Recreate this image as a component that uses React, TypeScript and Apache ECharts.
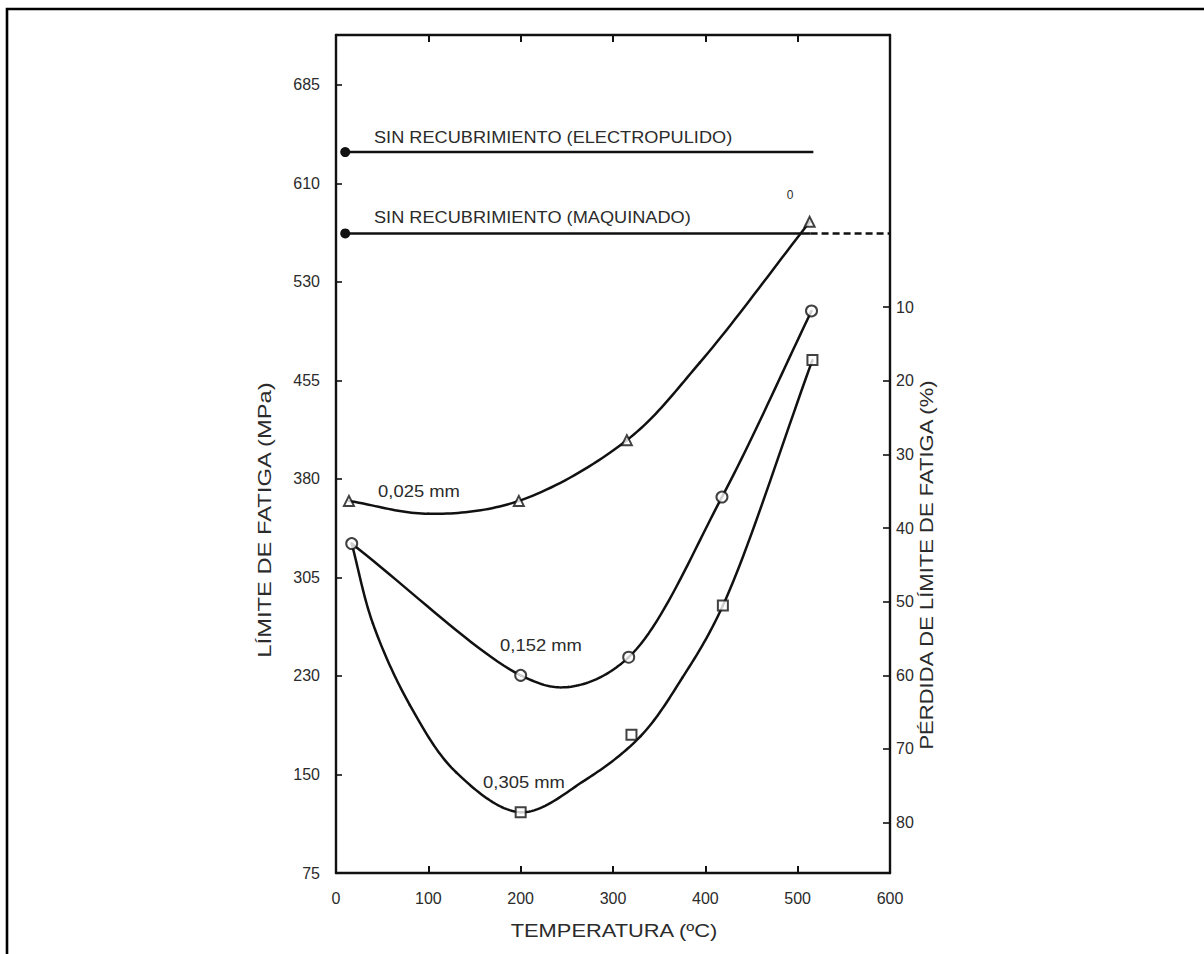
import React, { useEffect, useRef } from "react";
import * as echarts from "echarts";

// ---- Axis ticks ----
const temperatureTicks = [0, 100, 200, 300, 400, 500, 600];
const mpaTickValues = [75, 151.25, 227.5, 303.75, 380, 456.25, 532.5, 608.75, 685];
const mpaTickLabels = ["75", "150", "230", "305", "380", "455", "530", "610", "685"];
const lossTickValues = [10, 20, 30, 40, 50, 60, 70, 80];

// ---- Reference (uncoated) levels, MPa ----
const electropolished = [[10, 633], [517, 633]];
const machined = [[10, 570], [514, 570]];
const machinedExtension = [[514, 570], [600, 570]];

// ---- Coated: 0,025 mm (triangles) ----
const t025Markers = [[14, 363], [198, 363], [315, 410], [513, 579]];
const t025Curve = [[14, 363], [100, 353], [198, 363], [315, 410], [394, 470], [513, 579]];

// ---- Coated: 0,152 mm (circles) ----
const c152Markers = [[17, 330], [200, 228], [317, 242], [418, 366], [515, 510]];
const c152Curve = [[17, 330], [200, 228], [252, 219], [317, 242], [418, 366], [515, 510]];

// ---- Coated: 0,305 mm (squares) ----
const s305Markers = [[200, 122], [320, 182], [419, 282], [516, 472]];
const s305Curve = [[17, 330], [40, 268], [80, 205], [130, 153], [200, 122], [270, 147], [330, 181], [375, 226], [419, 282], [516, 472]];

const MPA_MIN = 75;
const MPA_MAX = 723.6;
const REF_MPA = 570; // 0 % loss level (machined)

const FONT = "'Liberation Sans', Arial, sans-serif";
const INK = "#111";
const TXT = "#2b2b2b";

type P = [number, number];

// centripetal Catmull-Rom segment between p1 and p2
function crSegment(p0: P, p1: P, p2: P, p3: P, n: number): P[] {
  const d = (a: P, b: P) => Math.max(Math.pow(Math.hypot(b[0] - a[0], b[1] - a[1]), 0.5), 1e-4);
  const t0 = 0;
  const t1 = t0 + d(p0, p1);
  const t2 = t1 + d(p1, p2);
  const t3 = t2 + d(p2, p3);
  const lerp = (a: P, b: P, ta: number, tb: number, t: number): P => {
    const wa = (tb - t) / (tb - ta);
    const wb = (t - ta) / (tb - ta);
    return [a[0] * wa + b[0] * wb, a[1] * wa + b[1] * wb];
  };
  const out: P[] = [];
  for (let i = 0; i <= n; i++) {
    const t = t1 + ((t2 - t1) * i) / n;
    const a1 = lerp(p0, p1, t0, t1, t);
    const a2 = lerp(p1, p2, t1, t2, t);
    const a3 = lerp(p2, p3, t2, t3, t);
    const b1 = lerp(a1, a2, t0, t2, t);
    const b2 = lerp(a2, a3, t1, t3, t);
    out.push(lerp(b1, b2, t1, t2, t));
  }
  return out;
}

function smoothCurveSeries(name: string, curve: number[][]) {
  return {
    name,
    type: "custom",
    coordinateSystem: "cartesian2d",
    xAxisIndex: 0,
    yAxisIndex: 0,
    data: curve.slice(0, curve.length - 1),
    silent: true,
    z: 3,
    renderItem: (params: any, api: any) => {
      const i = params.dataIndex;
      const pts: P[] = curve.map((c) => api.coord(c) as P);
      const p1 = pts[i];
      const p2 = pts[i + 1];
      const p0: P = i > 0 ? pts[i - 1] : [2 * p1[0] - p2[0], 2 * p1[1] - p2[1]];
      const p3: P = i + 2 < pts.length ? pts[i + 2] : [2 * p2[0] - p1[0], 2 * p2[1] - p1[1]];
      return {
        type: "polyline",
        shape: { points: crSegment(p0, p1, p2, p3, 24) },
        style: { stroke: INK, lineWidth: 2.5, fill: "none", lineJoin: "round", lineCap: "round" },
      };
    },
  };
}

export default function App() {
  const ref = useRef<HTMLDivElement>(null);

  useEffect(() => {
    if (!ref.current) return;
    const chart = echarts.init(ref.current, undefined, { renderer: "svg" });

    const lossMin = 100 * (1 - MPA_MAX / REF_MPA);
    const lossMax = 100 * (1 - MPA_MIN / REF_MPA);

    const lineStyle = { color: INK, width: 2.4 };
    const markerStyle = { color: "#fff", borderColor: INK, borderWidth: 2 };

    const startDotOnly = (arr: number[][]) =>
      arr.map((v, i) => (i === 0 ? { value: v } : { value: v, symbol: "none" }));

    const option: any = {
      animation: false,
      backgroundColor: "#fff",
      textStyle: { fontFamily: FONT },
      grid: { left: 336, top: 35, width: 554, height: 838, containLabel: false },
      xAxis: [
        {
          type: "value",
          position: "bottom",
          min: 0,
          max: 600,
          interval: 100,
          axisLine: { show: true, onZero: false, lineStyle: { color: INK, width: 2.4 } },
          axisTick: { show: true, inside: true, length: 7, lineStyle: { color: INK, width: 2 } },
          axisLabel: {
            show: true,
            margin: 17,
            color: TXT,
            fontSize: 16,
            fontFamily: FONT,
            formatter: (v: number) => (temperatureTicks.includes(v) ? String(v) : ""),
          },
          splitLine: { show: false },
        },
        {
          type: "value",
          position: "top",
          min: 0,
          max: 600,
          interval: 100,
          axisLine: { show: true, onZero: false, lineStyle: { color: INK, width: 2.4 } },
          axisTick: { show: true, inside: true, length: 7, lineStyle: { color: INK, width: 2 } },
          axisLabel: { show: false },
          splitLine: { show: false },
        },
      ],
      yAxis: [
        {
          type: "value",
          position: "left",
          min: MPA_MIN,
          max: MPA_MAX,
          axisLine: { show: true, onZero: false, lineStyle: { color: INK, width: 2.4 } },
          axisTick: {
            show: true,
            inside: true,
            length: 6,
            customValues: mpaTickValues,
            lineStyle: { color: INK, width: 1.6 },
          },
          axisLabel: {
            show: true,
            margin: 16,
            color: TXT,
            fontSize: 16,
            fontFamily: FONT,
            customValues: mpaTickValues,
            formatter: (v: number) => {
              const i = mpaTickValues.findIndex((t) => Math.abs(t - v) < 0.01);
              return i >= 0 ? mpaTickLabels[i] : "";
            },
          },
          splitLine: { show: false },
        },
        {
          type: "value",
          position: "right",
          inverse: true,
          min: lossMin,
          max: lossMax,
          axisLine: { show: true, onZero: false, lineStyle: { color: INK, width: 2.4 } },
          axisTick: {
            show: true,
            inside: true,
            length: 7,
            customValues: lossTickValues,
            lineStyle: { color: INK, width: 1.6 },
          },
          axisLabel: {
            show: true,
            margin: 6,
            color: TXT,
            fontSize: 16,
            fontFamily: FONT,
            customValues: lossTickValues,
            formatter: (v: number) => String(Math.round(v)),
          },
          splitLine: { show: false },
        },
      ],
      series: [
        {
          name: "SIN RECUBRIMIENTO (ELECTROPULIDO)",
          type: "line",
          data: startDotOnly(electropolished),
          symbol: "circle",
          symbolSize: 10,
          showAllSymbol: true,
          itemStyle: { color: INK },
          lineStyle,
          silent: true,
        },
        {
          name: "SIN RECUBRIMIENTO (MAQUINADO)",
          type: "line",
          data: startDotOnly(machined),
          symbol: "circle",
          symbolSize: 10,
          showAllSymbol: true,
          itemStyle: { color: INK },
          lineStyle,
          silent: true,
        },
        {
          name: "MAQUINADO (extensión)",
          type: "line",
          data: machinedExtension,
          symbol: "none",
          lineStyle: { color: INK, width: 2.4, type: [7, 4] },
          silent: true,
        },
        smoothCurveSeries("0,025 mm", t025Curve),
        smoothCurveSeries("0,152 mm", c152Curve),
        smoothCurveSeries("0,305 mm", s305Curve),
        {
          name: "0,025 mm puntos",
          type: "scatter",
          data: t025Markers,
          symbol: "triangle",
          symbolSize: 10,
          itemStyle: markerStyle,
          z: 5,
        },
        {
          name: "0,152 mm puntos",
          type: "scatter",
          data: c152Markers,
          symbol: "circle",
          symbolSize: 11,
          itemStyle: markerStyle,
          z: 5,
        },
        {
          name: "0,305 mm puntos",
          type: "scatter",
          data: s305Markers,
          symbol: "rect",
          symbolSize: 10,
          itemStyle: markerStyle,
          z: 5,
        },
      ],
      graphic: [
        {
          type: "rect",
          shape: { x: 7, y: 9, width: 1400, height: 1200 },
          style: { fill: "none", stroke: "#000", lineWidth: 2.6 },
          silent: true,
        },
        {
          type: "text",
          x: 374,
          y: 137,
          scaleX: 1.07,
          style: { text: "SIN RECUBRIMIENTO (ELECTROPULIDO)", fill: TXT, font: `17px ${FONT}`, verticalAlign: "middle" },
        },
        {
          type: "text",
          x: 374,
          y: 217,
          scaleX: 1.07,
          style: { text: "SIN RECUBRIMIENTO (MAQUINADO)", fill: TXT, font: `17px ${FONT}`, verticalAlign: "middle" },
        },
        {
          type: "text",
          x: 790,
          y: 195,
          style: { text: "0", fill: TXT, font: `12px ${FONT}`, align: "center", verticalAlign: "middle" },
        },
        {
          type: "text",
          x: 419,
          y: 491,
          scaleX: 1.15,
          style: { text: "0,025 mm", fill: TXT, font: `16px ${FONT}`, align: "center", verticalAlign: "middle" },
        },
        {
          type: "text",
          x: 541,
          y: 645,
          scaleX: 1.15,
          style: { text: "0,152 mm", fill: TXT, font: `16px ${FONT}`, align: "center", verticalAlign: "middle" },
        },
        {
          type: "text",
          x: 524,
          y: 782,
          scaleX: 1.15,
          style: { text: "0,305 mm", fill: TXT, font: `16px ${FONT}`, align: "center", verticalAlign: "middle" },
        },
        {
          type: "text",
          x: 614,
          y: 930,
          scaleX: 1.15,
          style: { text: "TEMPERATURA (ºC)", fill: TXT, font: `19px ${FONT}`, align: "center", verticalAlign: "middle" },
        },
        {
          type: "text",
          x: 265,
          y: 520,
          rotation: Math.PI / 2,
          scaleX: 1.25,
          style: { text: "LÍMITE DE FATIGA (MPa)", fill: TXT, font: `19px ${FONT}`, align: "center", verticalAlign: "middle" },
        },
        {
          type: "text",
          x: 926,
          y: 565,
          rotation: Math.PI / 2,
          scaleX: 1.16,
          style: { text: "PÉRDIDA DE LÍMITE DE FATIGA (%)", fill: TXT, font: `19px ${FONT}`, align: "center", verticalAlign: "middle" },
        },
      ],
    };

    chart.setOption(option);
    return () => chart.dispose();
  }, []);

  return (
    <div
      ref={ref}
      style={{ position: "absolute", left: 0, top: 0, width: 1204, height: 954, background: "#fff" }}
    />
  );
}
